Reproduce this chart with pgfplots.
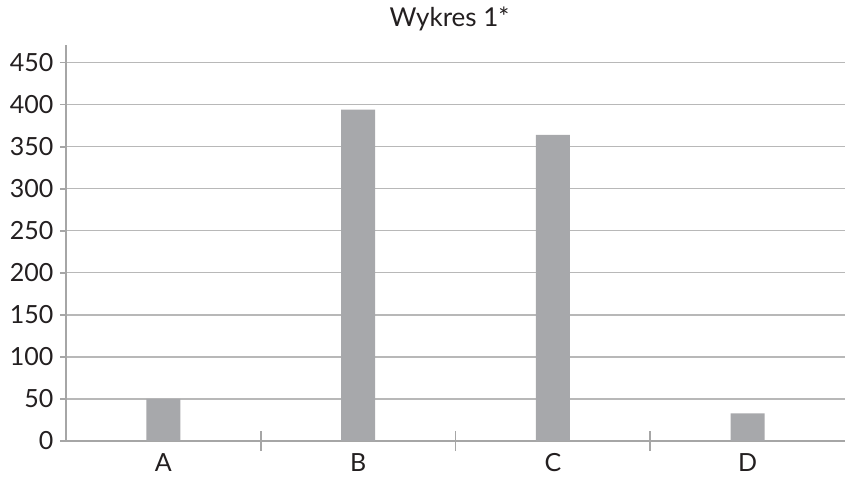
\documentclass[border=0pt]{standalone}
\usepackage{pgfplots}
\pgfplotsset{compat=1.18}
\usepackage{fontspec}
\setmainfont{Lato}
\definecolor{barc}{HTML}{A7A8AB}
\definecolor{axisc}{HTML}{A6A6A6}
\definecolor{gridc}{HTML}{B8B8B8}
\definecolor{textc}{HTML}{231F20}
\begin{document}
\begin{tikzpicture}
\useasboundingbox (-66pt,-35pt) rectangle (779pt,441pt);
\begin{axis}[
  scale only axis,
  width=779pt, height=396pt,
  xmin=-0.5, xmax=3.5,
  ymin=0, ymax=471,
  axis lines*=left,
  axis line style={draw=axisc, line width=1.8pt},
  /pgf/number format/assume math mode=true,
  ytick={0,50,...,450},
  ymajorgrids,
  grid style={draw=gridc, line width=1.3pt},
  tick style={draw=axisc, line width=1.6pt},
  tick align=outside,
  major tick length=6pt,
  xtick={0,1,2,3},
  xticklabels={A,B,C,D},
  xtick style={draw=none},
  extra x ticks={0.5,1.5,2.5},
  extra x tick labels={},
  extra x tick style={major tick length=20pt, tick align=center,
    xtick style={draw=axisc, line width=1.6pt}},
  tick label style={font=\fontsize{25}{25}\selectfont, text=textc},
  xticklabel style={yshift=-3pt},
  yticklabel style={xshift=-3pt},
  title={Wykres 1*},
  title style={font=\fontsize{26}{26}\selectfont, text=textc,
    at={(axis description cs:0.5,1)}, anchor=base, yshift=12pt, xshift=-6pt},
]
\addplot[ybar, bar width=0.175, fill=barc, draw=none]
  coordinates {(0,50) (1,394) (2,364) (3,33)};
\end{axis}
\end{tikzpicture}
\end{document}
